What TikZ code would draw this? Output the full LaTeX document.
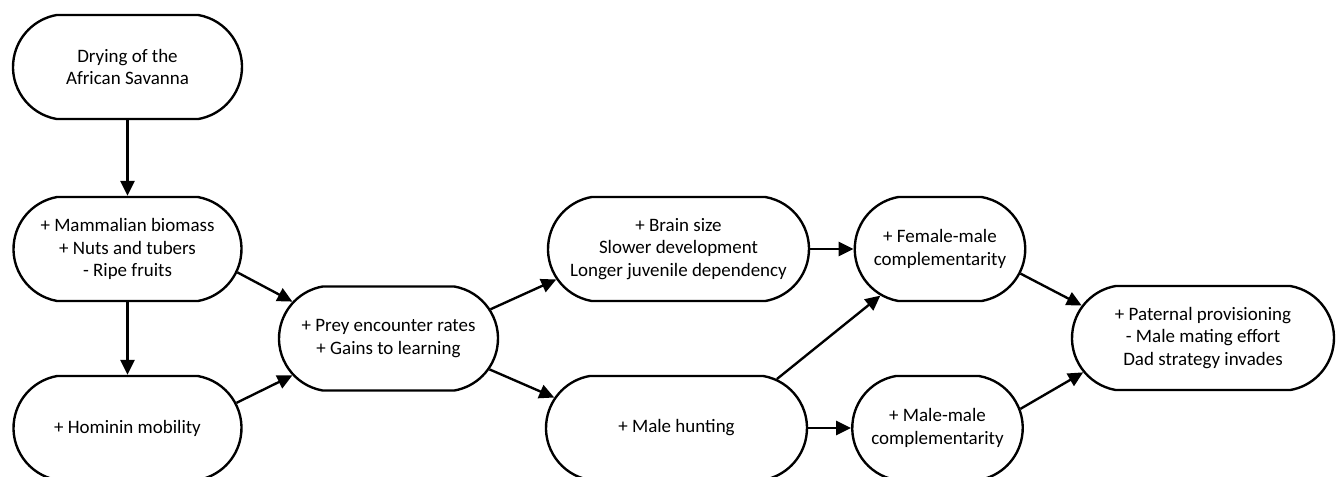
\documentclass[tikz,border=0pt]{standalone}
\usepackage{fontspec}
\setmainfont{Carlito}
\usepackage{tikz}
\usetikzlibrary{arrows.meta, shapes.misc}

\begin{document}
\begin{tikzpicture}[
    box/.style={rounded rectangle, rounded rectangle arc length=160, draw=black, line width=1.35pt,
        minimum height=2.08cm, inner sep=0pt, align=center, font=\fontsize{10.8}{13}\selectfont},
    link/.style={-{Triangle[length=8.5pt, width=8pt]}, line width=1.35pt}
]
        \useasboundingbox (0,0) rectangle (26.72,-9.52);

        \node (drying) at (2.55,-1.34)[box, minimum width=4.58cm] {Drying of the\\African Savanna};
        \node (biomass) at (2.55,-4.98)[box, minimum width=4.56cm] {+ Mammalian biomass\\+ Nuts and tubers\\- Ripe fruits};
        \node (mobility) at (2.55,-8.56)[box, minimum width=4.56cm] {+ Hominin mobility};
        \node (prey) at (7.77,-6.77)[box, minimum width=4.38cm] {+ Prey encounter rates\\+ Gains to learning};
        \node (brain) at (13.57,-4.98)[box, minimum width=5.22cm] {+ Brain size\\Slower development\\Longer juvenile dependency};
        \node (hunting) at (13.53,-8.56)[box, minimum width=5.22cm] {+ Male hunting};
        \node (female-male) at (18.8,-4.98)[box, minimum width=3.41cm] {+ Female-male\\complementarity};
        \node (male-male) at (18.75,-8.56)[box, minimum width=3.41cm] {+ Male-male\\complementarity};
        \node (paternal) at (24.06,-6.76)[box, minimum width=5.24cm] {+ Paternal provisioning\\- Male mating effort\\Dad strategy invades};

        \draw[link] (drying.south) -- (biomass.north);
        \draw[link] (biomass.south) -- (mobility.north);
        \draw[link] (biomass.-12) -- (prey.159);
        \draw[link] (mobility.13) -- (prey.201);
        \draw[link] (prey.16) -- (brain.194);
        \draw[link] (prey.-17) -- (hunting.166);
        \draw[link] (brain.east) -- (female-male.west);
        \draw[link] (hunting.east) -- (male-male.west);
        \draw[link] (hunting.26) -- (female-male.218);
        \draw[link] (female-male.-17) -- (paternal.165);
        \draw[link] (male-male.13) -- (paternal.196);
    \end{tikzpicture}
\end{document}
